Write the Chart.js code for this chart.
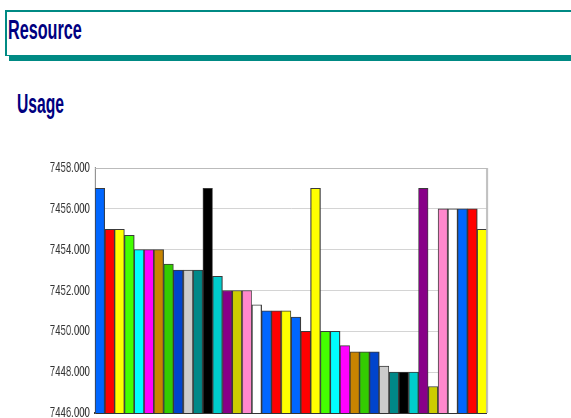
<!DOCTYPE html>
<html>
<head>
<meta charset="utf-8">
<script src="https://cdn.jsdelivr.net/npm/chart.js"></script>
<style>
  html, body { margin: 0; padding: 0; background: #fff; overflow: hidden; width: 571px; height: 418px; }
  #box { position: absolute; left: 5px; top: 10px; width: 600px; height: 43px;
         border-top: 2px solid #008a84; border-left: 2px solid #008a84; border-bottom: 1px solid #008a84; }
  #shadow { position: absolute; left: 9px; top: 55px; width: 600px; height: 6px; background: #008a84; }
  .ttl { position: absolute; font-family: "Liberation Sans", Arial, sans-serif; font-weight: bold;
         color: #000080; transform-origin: 0 0; white-space: nowrap; }
  #t1 { left: 8px; top: 15px; font-size: 27px; transform: scaleX(0.6); }
  #t2 { left: 17px; top: 88px; font-size: 28px; transform: scaleX(0.56); }
  #wrap { position: absolute; left: 0; top: 150px; width: 892px; height: 280px;
          transform: scaleX(0.64); transform-origin: 0 0; }
</style>
</head>
<body>
<div id="box"></div>
<div id="shadow"></div>
<div class="ttl" id="t1">Resource</div>
<div class="ttl" id="t2">Usage</div>
<div id="wrap"><canvas id="c"></canvas></div>
<script>
// squeeze factor of the picture
const SX = 0.64

const labels = ['1','2','3','4','5','6','7','8','9','10',
  '11','12','13','14','15','16','17','18','19','20',
  '21','22','23','24','25','26','27','28','29','30',
  '31','32','33','34','35','36','37','38','39','40']

const usage = [7457, 7455, 7455, 7454.7, 7454, 7454, 7454, 7453.3, 7453, 7453,
  7453, 7457, 7452.7, 7452, 7452, 7452, 7451.3, 7451, 7451, 7451,
  7450.7, 7450, 7457, 7450, 7450, 7449.3, 7449, 7449, 7449, 7448.3,
  7448, 7448, 7448, 7457, 7447.3, 7456, 7456, 7456, 7456, 7455]

const barColors = ['#0066ff','#ff0000','#ffff00','#44ff00','#00ffff','#ff00ff','#c88400','#33cc00','#0044cc','#cccccc',
  '#008888','#000000','#00cccc','#880088','#cccc00','#ff88cc','#ffffff','#0066ff','#ff0000','#ffff00',
  '#0066ff','#ff0000','#ffff00','#44ff00','#00ffff','#ff00ff','#c88400','#33cc00','#0044cc','#cccccc',
  '#008888','#000000','#00cccc','#880088','#cccc00','#ff88cc','#ffffff','#0066ff','#ff0000','#ffff00']

const yMin = 7446
const yMax = 7458
const yStep = 2

// top and right frame of the plot
const frame = {
  id: 'frame',
  afterDraw(chart) {
    const a = chart.chartArea, ctx = chart.ctx
    ctx.save()
    ctx.strokeStyle = '#bbbbbb'
    ctx.lineWidth = 1
    ctx.beginPath()
    ctx.moveTo(a.left, a.top + 0.5)
    ctx.lineTo(a.right, a.top + 0.5)
    ctx.stroke()
    ctx.lineWidth = 2 / SX
    ctx.beginPath()
    ctx.moveTo(a.right, a.top)
    ctx.lineTo(a.right, a.bottom)
    ctx.stroke()
    ctx.restore()
  }
}

new Chart(document.getElementById('c'), {
  type: 'bar',
  data: {
    labels: labels,
    datasets: [{
      data: usage,
      backgroundColor: barColors,
      borderColor: '#3a3a3a',
      borderWidth: { top: 1, left: 1 / SX, right: 1 / SX, bottom: 0 },
      borderSkipped: false,
      categoryPercentage: 1,
      barPercentage: 1
    }]
  },
  options: {
    responsive: true,
    maintainAspectRatio: false,
    animation: false,
    layout: { padding: { left: 0, right: 892 - 487 / SX, top: 18, bottom: 5 } },
    plugins: { legend: { display: false }, tooltip: { enabled: false } },
    scales: {
      x: {
        grid: { display: false, drawTicks: false },
        ticks: { display: false },
        border: { display: true, color: '#333333', width: 2 },
        afterFit(s) { s.height = 0 }
      },
      y: {
        min: yMin,
        max: yMax,
        grid: { color: '#d4d4d4', lineWidth: 1, drawTicks: false },
        border: { display: true, color: '#666666', width: 1 / SX },
        ticks: {
          stepSize: yStep,
          padding: 8,
          color: '#333333',
          font: { family: 'Liberation Sans, Arial, sans-serif', size: 15 },
          callback: v => v.toFixed(3)
        },
        afterFit(s) { s.width = 95 / SX }
      }
    }
  },
  plugins: [frame]
})
</script>
</body>
</html>
